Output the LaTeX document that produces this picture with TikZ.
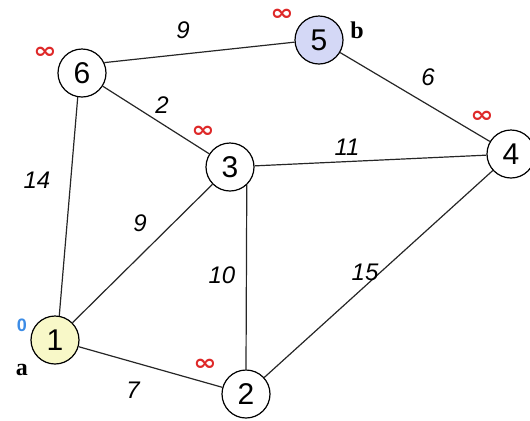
\documentclass[tikz,border=0pt]{standalone}
\usepackage{fontspec}
\setmainfont{Liberation Serif}
\setsansfont{Liberation Sans}
\newfontfamily\symfont{DejaVu Sans}
\usetikzlibrary{positioning}

\definecolor{srcfill}{RGB}{248,248,200}
\definecolor{dstfill}{RGB}{212,216,246}
\definecolor{infred}{RGB}{222,40,40}
\definecolor{zeroblue}{RGB}{60,140,230}

\begin{document}
\begin{tikzpicture}[
  x=0.5pt, y=-0.5pt,
  vtx/.style={draw, circle, line width=0.6pt, minimum size=24pt, inner sep=0pt,
              font=\sffamily\fontsize{15}{15}\selectfont},
  wlab/.style={font=\sffamily\itshape\fontsize{12}{12}\selectfont, inner sep=1pt},
  dist/.style={text=infred, font=\symfont\bfseries\fontsize{14}{14}\selectfont,
               inner sep=0pt, yscale=0.8},
  term/.style={font=\bfseries\fontsize{12}{12}\selectfont, inner sep=0pt},
  link/.style={line width=0.6pt, black!85},
]
\useasboundingbox (0,0) rectangle (530,420);

%% ---------- vertices ----------
\node[vtx, fill=srcfill] (1) at (55,340) {1};
\node[vtx] (2) at (246,394) {2};
\node[vtx] (3) at (230,167) {3};
\node[vtx] (4) at (511,154) {4};
\node[vtx, fill=dstfill] (5) at (319,40) {5};
\node[vtx] (6) at (82,73) {6};

%% ---------- edges ----------
\draw[link] (6.25) -- (5.185);
\draw[link] (6) -- (3);
\draw[link] (6.-100) -- (1.80);
\draw[link] (1) -- (3);
\draw[link] (3) -- (4);
\draw[link] (5) -- (4);
\draw[link] (3.-47) -- (2.north);
\draw[link] (2) -- (4);
\draw[link] (1) -- (2);

%% ---------- weights ----------
\node[wlab] (w65) at (183,30) {9};
\node[wlab] (w63) at (162,105) {2};
\node[wlab] (w61) at (37,180) {14};
\node[wlab] (w13) at (140,223) {9};
\node[wlab] (w34) at (347,147) {11};
\node[wlab] (w54) at (428,77) {6};
\node[wlab] (w32) at (222,275) {10};
\node[wlab] (w24) at (365,272) {15};
\node[wlab] (w12) at (133,390) {7};

%% ---------- distances ----------
\node[dist] (d6) at (45,53) {∞};
\node[dist] (d5) at (282,15) {∞};
\node[dist] (d3) at (203,132) {∞};
\node[dist] (d4) at (482,117) {∞};
\node[dist] (d2) at (205,365) {∞};
\node[text=zeroblue, font=\sffamily\bfseries\fontsize{9}{9}\selectfont, inner sep=0pt] (d1) at (22,325) {0};

%% source / target
\node[term] (a) at (22,370) {a};
\node[term] (b) at (357,30) {b};

\end{tikzpicture}
\end{document}
